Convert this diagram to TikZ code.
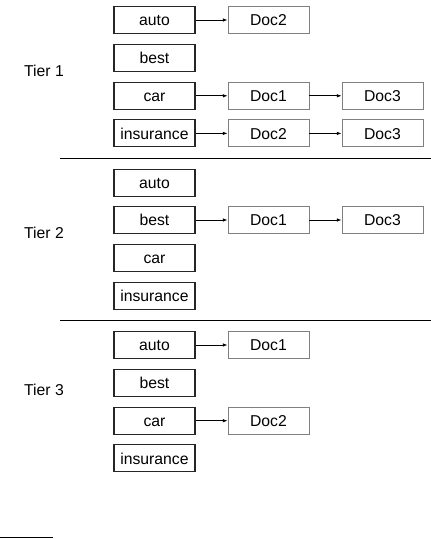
\documentclass[tikz,border=0pt]{standalone}
\usepackage{fontspec}
\setmainfont{Liberation Sans}
\usetikzlibrary{arrows.meta}
\begin{document}
\begin{tikzpicture}[x=0.75pt,y=-0.75pt,
  boxfont/.style={font=\fontsize{11.8}{13}\selectfont,text height=8.4pt,text depth=0pt},
  term/.style={boxfont,draw=black!85,line width=0.85pt,minimum width=60.75pt,minimum height=20.25pt,inner sep=0pt},
  doc/.style={boxfont,draw=black!50,line width=0.7pt,minimum width=60.75pt,minimum height=20.25pt,inner sep=0pt},
  tier/.style={boxfont,inner sep=0pt},
  link/.style={-{Latex[length=3.5pt,width=2.6pt]},line width=0.55pt},
  sep/.style={line width=1.1pt}]
\useasboundingbox (0,0) rectangle (431,539);
% Tier 1
\node[tier] (t1) at (44,71) {Tier 1};
\node[term] (a1) at (154.5,20) {auto};
\node[term] (b1) at (154.5,58.2) {best};
\node[term] (c1) at (154.5,95.8) {car};
\node[term] (i1) at (154.5,133.4) {insurance};
\node[doc] (a1d2) at (268.5,20) {Doc2};
\node[doc] (c1d1) at (268.5,95.8) {Doc1};
\node[doc] (c1d3) at (382.5,95.8) {Doc3};
\node[doc] (i1d2) at (268.5,133.4) {Doc2};
\node[doc] (i1d3) at (382.5,133.4) {Doc3};
\draw[link] (a1) -- (a1d2);
\draw[link] (c1) -- (c1d1);
\draw[link] (c1d1) -- (c1d3);
\draw[link] (i1) -- (i1d2);
\draw[link] (i1d2) -- (i1d3);
\coordinate (s1a) at (60,158.3);
\coordinate (s1b) at (431,158.3);
\draw[sep] (s1a) -- (s1b);
% Tier 2
\node[tier] (t2) at (44,232.5) {Tier 2};
\node[term] (a2) at (154.5,182.7) {auto};
\node[term] (b2) at (154.5,220) {best};
\node[term] (c2) at (154.5,258.2) {car};
\node[term] (i2) at (154.5,296.2) {insurance};
\node[doc] (b2d1) at (268.5,220) {Doc1};
\node[doc] (b2d3) at (382.5,220) {Doc3};
\draw[link] (b2) -- (b2d1);
\draw[link] (b2d1) -- (b2d3);
\coordinate (s2a) at (60,320.3);
\coordinate (s2b) at (431,320.3);
\draw[sep] (s2a) -- (s2b);
% Tier 3
\node[tier] (t3) at (44,389.5) {Tier 3};
\node[term] (a3) at (154.5,345) {auto};
\node[term] (b3) at (154.5,382.8) {best};
\node[term] (c3) at (154.5,420.7) {car};
\node[term] (i3) at (154.5,458.4) {insurance};
\node[doc] (a3d1) at (268.5,345) {Doc1};
\node[doc] (c3d2) at (268.5,420.7) {Doc2};
\draw[link] (a3) -- (a3d1);
\draw[link] (c3) -- (c3d2);
% footnote rule
\coordinate (fa) at (0,537.8);
\coordinate (fb) at (53,537.8);
\draw[line width=0.8pt] (fa) -- (fb);
\end{tikzpicture}
\end{document}
